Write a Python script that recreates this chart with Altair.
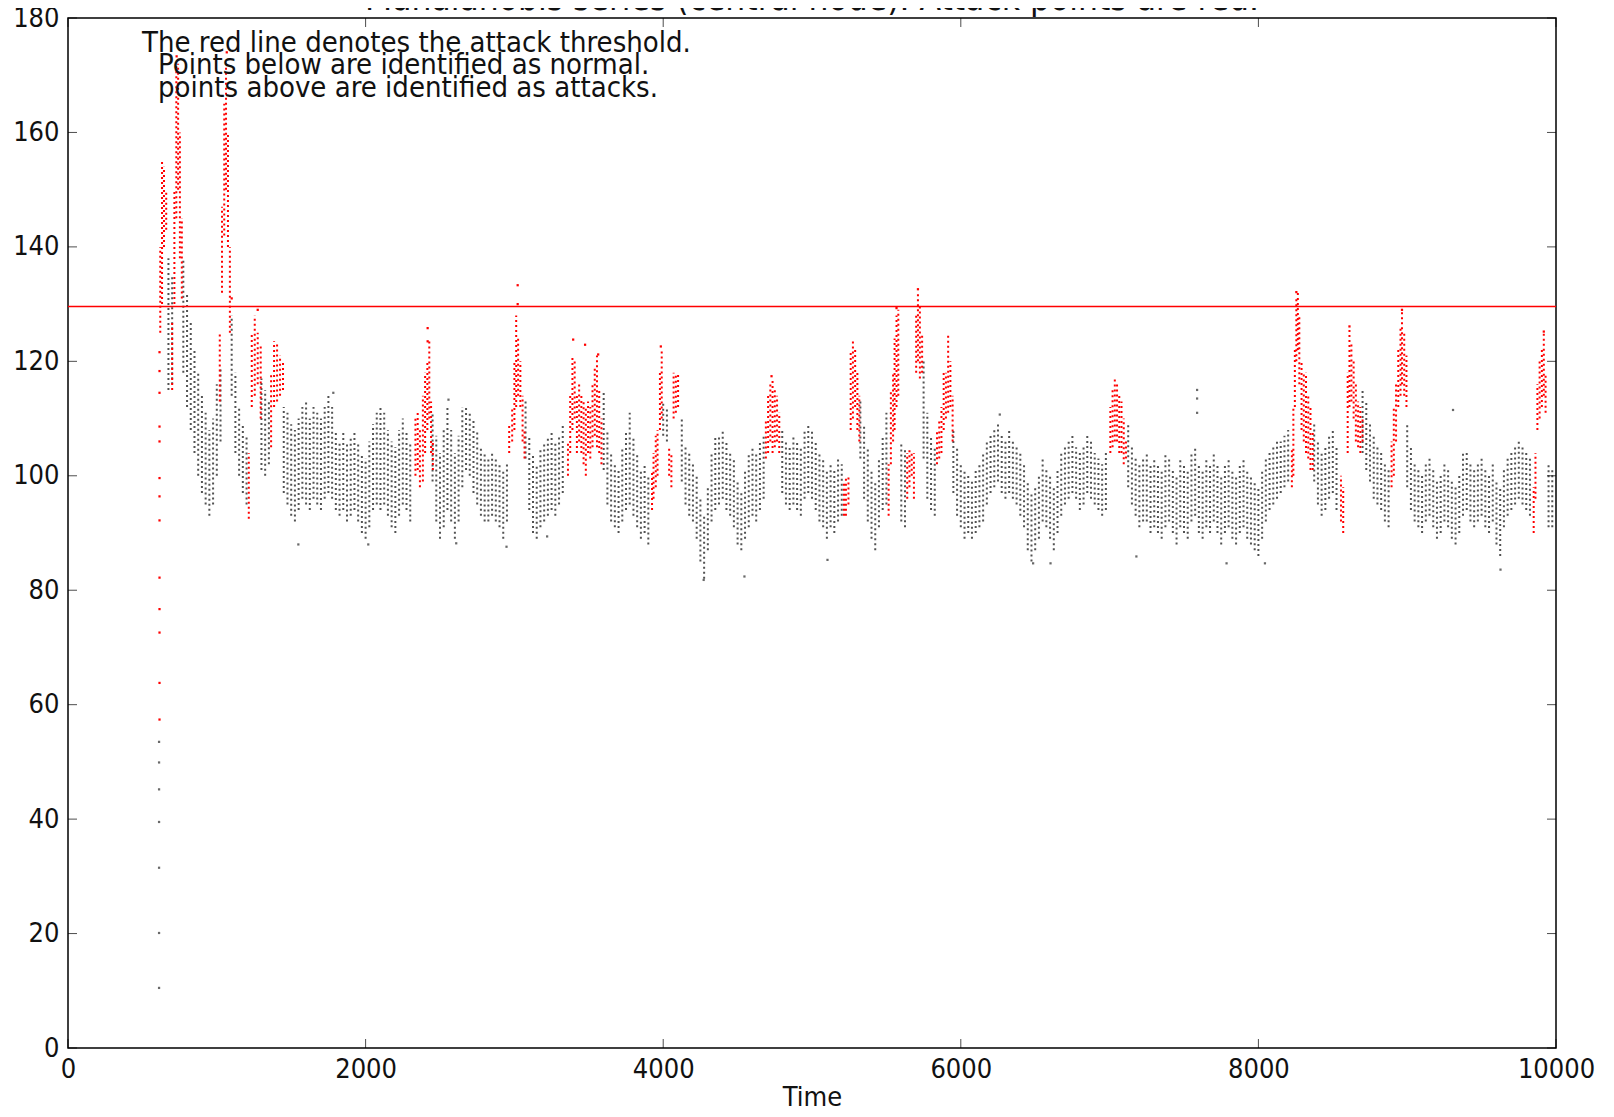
import altair as alt
import pandas as pd

# ---------------- data ----------------
threshold = 129.6
x_ticks = [0, 2000, 4000, 6000, 8000, 10000]
y_ticks = [0, 20, 40, 60, 80, 100, 120, 140, 160, 180]

# normal (black) cloud: runs sampled every 25 time units, low / high edge of the cloud
black_step = 25
black_starts = [675, 775, 1100, 1300, 1450, 2450, 3075, 3600, 4000, 4125,
                4800, 5325, 5600, 5750, 5950, 7125, 8375, 8700, 9000, 9950]
black_lo_runs = [
    [115, 116],
    [118, 112, 108, 104, 100, 97, 95, 93, 95, 100, 106],
    [114, 104, 100, 97, 95],
    [101, 100, 102],
    [97, 95, 93, 92, 94, 96, 95, 94, 96, 95, 94, 96, 97, 96, 94, 93, 94, 92, 93, 94,
     92, 90, 89, 91, 94, 95, 94, 95, 93, 91, 90, 93, 95, 94, 92],
    [99, 92, 89, 91, 94, 92, 89, 92, 98, 101, 100, 97, 95, 93, 92, 92, 93, 92, 91, 89, 92],
    [103, 94, 90, 89, 91, 92, 93, 94, 93, 95, 97],
    [101, 95, 92, 91, 90, 92, 94, 95, 93, 91, 89, 90, 88],
    [107, 106],
    [99, 95, 93, 92, 89, 85, 82, 87, 92, 94, 95, 96, 94, 93, 91, 88, 87, 89, 91, 93, 92, 94, 96],
    [97, 95, 94, 95, 94, 93, 96, 97, 96, 94, 92, 91, 89, 91, 90, 92, 93],
    [103, 96, 92, 89, 87, 91, 94, 95],
    [92, 91],
    [103, 96, 94, 93],
    [97, 93, 91, 89, 90, 89, 90, 91, 92, 95, 97, 98, 99, 97, 96, 97, 96, 95, 93, 91,
     87, 85, 87, 89, 92, 91, 89, 87, 90, 93, 95, 96, 97, 96, 94, 95, 97, 96, 95, 94, 93, 94],
    [98, 95, 93, 91, 92, 92, 90, 91, 90, 89, 91, 92, 90, 88, 91, 90, 89, 92, 93, 90,
     89, 91, 90, 92, 90, 88, 90, 91, 89, 88, 90, 91, 89, 88, 87, 86, 89, 92, 94, 95, 96, 97, 98, 99],
    [99, 95, 93, 94, 96, 97, 94],
    [104, 101, 99, 96, 95, 94, 92, 91],
    [98, 94, 92, 91, 90, 92, 93, 91, 89, 90, 92, 91, 89, 88, 90, 93, 94, 92, 91, 92,
     93, 91, 90, 92, 88, 86, 91, 93, 94, 95, 96, 95, 94, 93],
    [91, 91],
]
black_hi_runs = [
    [138, 135],
    [138, 132, 127, 122, 118, 114, 111, 108, 110, 116, 119],
    [128, 118, 112, 109, 107],
    [117, 115, 113],
    [112, 111, 109, 108, 110, 112, 113, 110, 112, 111, 110, 112, 114, 112, 108, 106, 108, 106, 107, 108,
     106, 104, 103, 106, 109, 111, 112, 111, 108, 106, 105, 108, 110, 108, 106],
    [111, 107, 104, 108, 112, 108, 104, 107, 112, 112, 111, 110, 108, 105, 104, 103, 104, 103, 102, 101, 102],
    [113, 107, 104, 102, 105, 106, 107, 108, 106, 107, 109],
    [115, 108, 104, 102, 101, 105, 108, 111, 107, 104, 101, 102, 100],
    [113, 112],
    [110, 105, 104, 102, 100, 96, 93, 98, 104, 107, 107, 108, 106, 104, 103, 99, 97, 101, 104, 105, 104, 106, 107],
    [108, 106, 105, 107, 106, 105, 108, 109, 108, 106, 104, 103, 101, 102, 101, 103, 102],
    [113, 109, 105, 101, 99, 103, 107, 111],
    [106, 105],
    [120, 111, 107, 105],
    [108, 105, 102, 101, 100, 99, 101, 102, 104, 106, 107, 108, 109, 107, 106, 108, 106, 105, 104, 102,
     99, 97, 98, 100, 103, 101, 100, 98, 101, 104, 105, 106, 107, 105, 104, 105, 107, 106, 104, 103, 102, 104],
    [109, 105, 103, 102, 103, 104, 102, 103, 102, 101, 104, 103, 101, 100, 103, 102, 101, 104, 105, 102,
     101, 103, 102, 104, 102, 100, 102, 103, 101, 100, 102, 103, 101, 100, 99, 98, 101, 103, 104, 105, 106, 106, 107, 108],
    [109, 106, 104, 105, 107, 108, 105],
    [115, 113, 109, 107, 105, 104, 102, 101],
    [109, 105, 102, 101, 100, 102, 103, 101, 99, 100, 102, 101, 99, 98, 100, 104, 104, 102, 101, 102,
     103, 101, 100, 102, 99, 98, 101, 103, 104, 105, 106, 105, 104, 103],
    [102, 101],
]

# isolated black points (start-up ramp and outliers)
black_pt_t = [612, 612, 612, 612, 612, 612, 612,
              1548, 2018, 2609, 2947, 3220, 4272, 4546, 5104, 6486, 6603, 7180, 7786, 8044, 9627,
              7588, 7588, 7588, 1783, 2557, 6262, 9308]
black_pt_v = [10.5, 20.1, 31.5, 39.5, 45.2, 49.9, 53.5,
              88, 88, 88.2, 87.6, 89.4, 81.8, 82.4, 85.3, 84.7, 84.7, 85.9, 84.7, 84.7, 83.6,
              115, 113.5, 111, 114.5, 113.3, 110.7, 111.5]

# attack (red) streaks: time, low, high
red_t = [620, 632, 645, 660,
         700, 715, 728, 740, 752, 765,
         1020, 1035, 1050, 1062, 1075, 1088,
         1215, 1235, 1255, 1275, 1295,
         1365, 1385, 1405, 1425, 1445,
         2335, 2350, 2365, 2385, 2400, 2415, 2428, 2440, 2452,
         2965, 2985, 3000, 3012, 3025, 3040, 3055, 3068,
         3360, 3375, 3390, 3405, 3420, 3435, 3450, 3465, 3480, 3495, 3510, 3525, 3540, 3555, 3570, 3585,
         3925, 3935, 3950, 3962, 3978, 3990, 4040, 4055, 4070, 4085, 4100,
         4690, 4705, 4720, 4735, 4750, 4765, 4780,
         5215, 5228, 5245, 5260, 5275, 5290, 5305, 5318,
         5515, 5530, 5545, 5555, 5568, 5580,
         5640, 5655, 5670, 5685, 5700, 5712, 5725, 5740,
         5840, 5855, 5870, 5885, 5900, 5915, 5930, 5945,
         7005, 7020, 7035, 7050, 7065, 7080, 7095, 7110,
         8225, 8235, 8245, 8255, 8265, 8275, 8290, 8305, 8320, 8335, 8350, 8365,
         8555, 8570,
         8600, 8612, 8625, 8640, 8655, 8670, 8685, 8700,
         8895, 8910, 8925, 8940, 8955, 8965, 8980, 8995,
         9850, 9862, 9875, 9890, 9905, 9918, 9930]
red_lo = [125, 130, 140, 143,
          115, 130, 145, 150, 138, 131,
          113, 132, 142, 150, 140, 125,
          92.5, 112, 114, 116, 110,
          105, 112, 113, 114, 115,
          100, 101, 98, 99, 104, 108, 110, 104, 101,
          104, 106, 108, 112, 114, 112, 106, 103,
          100, 104, 108, 110, 104, 106, 104, 102, 100, 104, 103, 105, 107, 105, 104, 102,
          94, 96, 98, 100, 108, 110, 100, 98, 110, 111, 112,
          103, 104, 106, 104, 105, 106, 104,
          93, 93, 95, 108, 110, 112, 108, 106,
          93, 102, 106, 108, 112, 114,
          96, 98, 100, 96, 118, 120, 117, 118,
          102, 103, 104, 108, 110, 111, 112, 106,
          104, 105, 106, 106, 104, 104, 102, 103,
          98, 100, 112, 120, 122, 116, 108, 106, 104, 103, 101, 101,
          92, 90,
          104, 112, 113, 110, 106, 105, 104, 106,
          98, 100, 106, 112, 114, 116, 114, 112,
          90, 96, 108, 110, 112, 114, 111]
red_hi = [140, 155, 154, 150,
          127, 150, 172, 172, 160, 145,
          125, 147, 165, 172, 160, 140,
          104, 125, 128, 125, 123,
          118, 123.5, 123, 121, 120,
          110, 111, 108, 114, 118, 120, 124, 113, 106,
          109, 112, 120, 128, 124, 120, 114, 108,
          106, 114, 121, 120, 114, 116, 114, 113, 112, 113, 112, 116, 119, 121, 115, 110,
          101, 104, 107, 108, 118, 122, 105, 104, 118, 118, 118,
          110, 114, 116, 117, 115, 114, 111,
          99, 100, 100, 122, 124, 122, 118, 114,
          102, 115, 118, 124, 128, 129,
          104, 105, 104, 104, 128, 132, 130, 125,
          108, 110, 112, 118, 118, 125, 120, 114,
          112, 115, 117, 116, 114, 113, 110, 106,
          105, 112, 122, 131, 132, 128, 120, 118, 118, 114, 112, 108,
          100, 98,
          118, 126, 123, 120, 116, 113, 112, 110,
          106, 112, 116, 122, 126, 129, 125, 121,
          98, 104, 116, 120, 122, 125, 118]

# isolated red points (start-up ramp and streak tops)
red_pt_t = [615, 615, 615, 615, 615, 615, 615, 615, 615, 615, 615, 615, 615,
            3022, 3022, 3395, 3475, 3563, 3984, 4728, 5568, 5712, 8255, 8612, 8965, 9918,
            2417, 2417, 1067, 730, 1100, 1275]
red_pt_v = [57.4, 63.8, 72.6, 76.7, 82.2, 92.2, 96.4, 99.6, 106, 108.6, 114.5, 118.3, 121.6,
            133.3, 130, 123.8, 122.9, 121.2, 122.6, 117.4, 129.3, 132.6, 132.1, 126.1, 129, 125.2,
            125.8, 123.5, 174, 173.3, 131, 129]

title_text = "Mahalanobis series (central node). Attack points are red."
note_lines = ["The red line denotes the attack threshold.",
              "Points below are identified as normal.",
              "points above are identified as attacks."]

# ---------------- tables ----------------
rows = []
for start, los, his in zip(black_starts, black_lo_runs, black_hi_runs):
    if len(los) != len(his):
        raise ValueError("run length mismatch at %d" % start)
    for i, (lo, hi) in enumerate(zip(los, his)):
        rows.append({"t": start + black_step * i, "lo": lo, "hi": hi})
black_df = pd.DataFrame(rows)
black_pts = pd.DataFrame({"t": black_pt_t, "v": black_pt_v})
red_df = pd.DataFrame({"t": red_t, "lo": red_lo, "hi": red_hi})
red_pts = pd.DataFrame({"t": red_pt_t, "v": red_pt_v})
thr_df = pd.DataFrame({"v": [threshold]})
xt_df = pd.DataFrame({"v": x_ticks})
yt_df = pd.DataFrame({"v": y_ticks})
one = pd.DataFrame({"a": [0]})

W, H = 1488, 1030
FONT = "DejaVu Sans Condensed, DejaVu Sans"
xs = alt.Scale(domain=[0, 10000], nice=False, zero=False)
ys = alt.Scale(domain=[0, 180], nice=False, zero=False)

# identical axis definitions are given to every layer so that they merge into one axis
x_axis = alt.Axis(values=x_ticks, format="d", ticks=False, domain=False, grid=False,
                  labelFlush=False, labelOverlap=False,
                  labelFontSize=27, labelPadding=8, labelColor="#111111", labelFont=FONT,
                  title="Time", titleFontSize=27, titleFontWeight="normal", titleColor="#111111",
                  titleFont=FONT, titlePadding=2)
y_axis = alt.Axis(values=y_ticks, format="d", ticks=False, domain=False, grid=False,
                  labelFlush=False, labelOverlap=False,
                  labelFontSize=27, labelPadding=9, labelColor="#111111", labelFont=FONT, title=None)


def X(field):
    return alt.X(field, type="quantitative", scale=xs, axis=x_axis)


def Y(field):
    return alt.Y(field, type="quantitative", scale=ys, axis=y_axis)


black_rules = alt.Chart(black_df).mark_rule(
    color="#000000", opacity=0.68, strokeWidth=2, strokeDash=[2, 3]
).encode(x=X("t"), y=Y("lo"), y2="hi")
black_dots = alt.Chart(black_pts).mark_square(size=5, color="#444444", opacity=0.8).encode(
    x=X("t"), y=Y("v"))
red_rules = alt.Chart(red_df).mark_rule(
    color="#ff0000", strokeWidth=2, strokeDash=[2, 3]
).encode(x=X("t"), y=Y("lo"), y2="hi")
red_dots = alt.Chart(red_pts).mark_square(size=5, color="#ff0000", opacity=1).encode(
    x=X("t"), y=Y("v"))
thr = alt.Chart(thr_df).mark_rule(color="#ff0000", strokeWidth=1.5).encode(y=Y("v"))

tick_len = 9
xt_bottom = alt.Chart(xt_df).mark_tick(orient="vertical", size=tick_len, thickness=1, color="black").encode(
    x=X("v"), y=alt.value(H - tick_len / 2))
xt_top = alt.Chart(xt_df).mark_tick(orient="vertical", size=tick_len, thickness=1, color="black").encode(
    x=X("v"), y=alt.value(tick_len / 2))
yt_left = alt.Chart(yt_df).mark_tick(orient="horizontal", size=tick_len, thickness=1, color="black").encode(
    y=Y("v"), x=alt.value(tick_len / 2))
yt_right = alt.Chart(yt_df).mark_tick(orient="horizontal", size=tick_len, thickness=1, color="black").encode(
    y=Y("v"), x=alt.value(W - tick_len / 2))

note_pos = [(74, 24.5), (90, 46.5), (90, 70)]
notes = [
    alt.Chart(one).mark_text(text=line, align="left", baseline="middle", fontSize=29,
                             font=FONT, color="#111111").encode(x=alt.value(px), y=alt.value(py))
    for line, (px, py) in zip(note_lines, note_pos)
]
title_mark = alt.Chart(one).mark_text(text=title_text, align="center", baseline="alphabetic",
                                      fontSize=35, font=FONT, color="#111111").encode(
    x=alt.value(W / 2), y=alt.value(-8))

chart = alt.layer(
    black_rules, black_dots, red_rules, red_dots, thr,
    xt_bottom, xt_top, yt_left, yt_right, *notes, title_mark
).properties(
    width=W, height=H,
    autosize=alt.AutoSizeParams(type="none"),
    padding={"left": 60, "top": 10, "right": 50, "bottom": 61},
).configure(
    font=FONT
).configure_view(
    stroke="black", strokeWidth=1.5
)

chart.save("out.html", embed_options={"renderer": "svg", "actions": False})
